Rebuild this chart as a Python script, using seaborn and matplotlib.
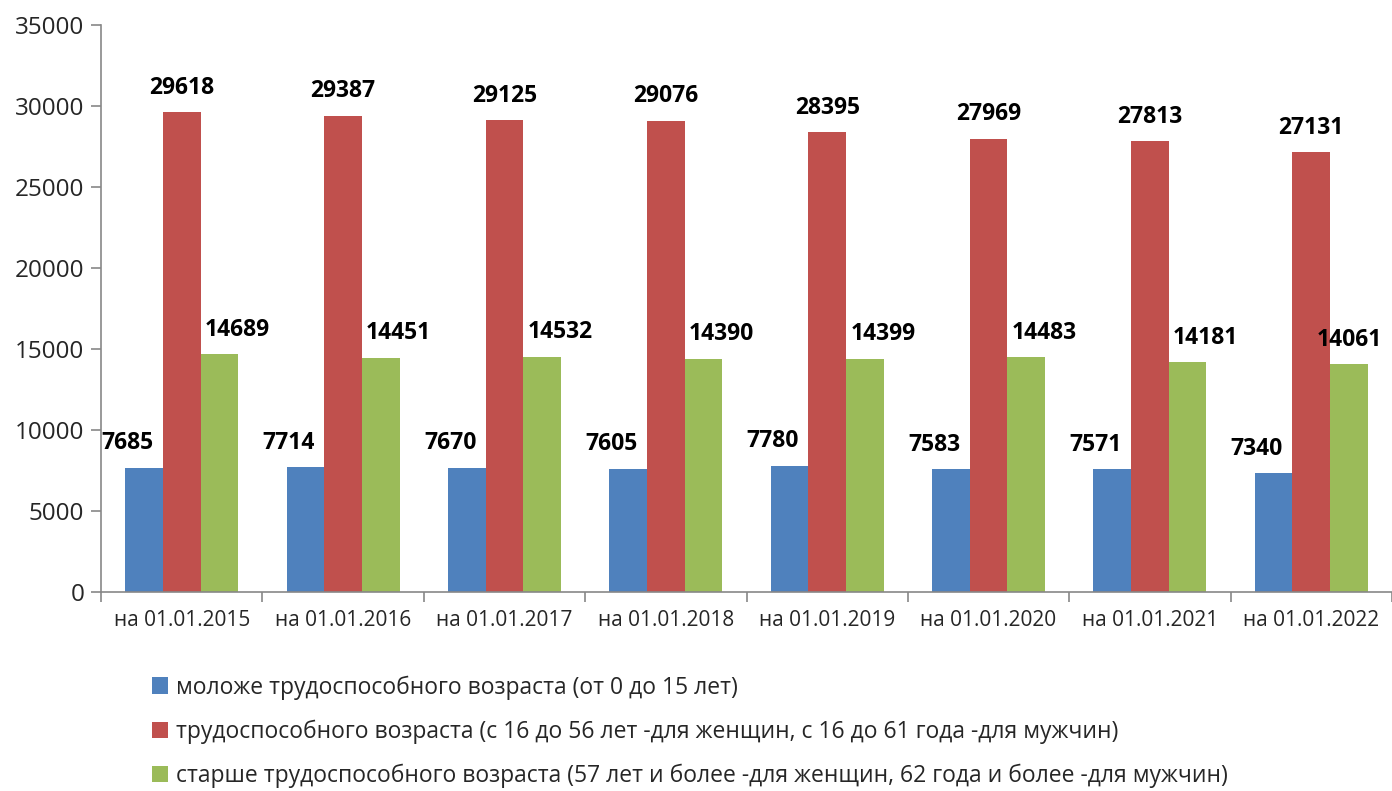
import matplotlib
matplotlib.use("Agg")
import matplotlib.pyplot as plt
import seaborn as sns
import pandas as pd
from matplotlib.patches import Patch

categories = ["на 01.01.2015", "на 01.01.2016", "на 01.01.2017", "на 01.01.2018",
              "на 01.01.2019", "на 01.01.2020", "на 01.01.2021", "на 01.01.2022"]
series_names = [
    "моложе трудоспособного возраста (от 0 до 15 лет)",
    "трудоспособного возраста (с 16 до 56 лет -для женщин, с 16 до 61 года -для мужчин)",
    "старше трудоспособного возраста (57 лет и более -для женщин, 62 года и более -для мужчин)",
]
young = [7685, 7714, 7670, 7605, 7780, 7583, 7571, 7340]
working = [29618, 29387, 29125, 29076, 28395, 27969, 27813, 27131]
old = [14689, 14451, 14532, 14390, 14399, 14483, 14181, 14061]
colors = ["#4F81BD", "#C0504D", "#9BBB59"]

sns.set_style("white")
plt.rcParams['font.family'] = ['Open Sans', 'DejaVu Sans']

rows = []
for name, vals in zip(series_names, [young, working, old]):
    for c, v in zip(categories, vals):
        rows.append({"cat": c, "series": name, "value": v})
df = pd.DataFrame(rows)

fig = plt.figure(figsize=(13.92, 7.91), dpi=100)
ax = fig.add_axes([101/1392, 1-592/791, 1-101/1392, (592-25)/791])

sns.barplot(data=df, x="cat", y="value", hue="series", order=categories,
            hue_order=series_names, palette=colors, width=0.7, gap=0,
            saturation=1, edgecolor="none", linewidth=0, legend=False, ax=ax)

ax.set_ylim(0, 35000)
ax.set_xlim(-0.5, len(categories) - 0.5)
ax.set_yticks(range(0, 35001, 5000))
ax.set_xlabel("")
ax.set_ylabel("")
ax.tick_params(axis="y", labelsize=17.5, length=7, width=1.2, color="#878787",
               direction="out", pad=5, left=True)
ax.tick_params(axis="x", which="major", labelsize=15, length=0, pad=13)
ax.set_xticks([i - 0.5 for i in range(len(categories) + 1)], minor=True)
ax.tick_params(axis="x", which="minor", length=7, width=1.2, color="#878787",
               direction="out", bottom=True)
for s in ["top", "right"]:
    ax.spines[s].set_visible(False)
for s in ["left", "bottom"]:
    ax.spines[s].set_color("#878787")
    ax.spines[s].set_linewidth(1.2)

x_off = [-12, 0, 13]
for si, cont in enumerate(ax.containers):
    for i, bar in enumerate(cont):
        h = bar.get_height()
        dx = x_off[si]
        if si == 2 and i == len(categories) - 1:
            dx = 0
        ax.annotate(f"{int(h)}", (bar.get_x() + bar.get_width() / 2, h),
                    xytext=(dx, 9), textcoords="offset points",
                    ha="center", va="bottom", fontsize=16.5, fontweight="bold",
                    color="black", annotation_clip=False)

handles = [Patch(facecolor=c, edgecolor="none") for c in colors]
fig.legend(handles, series_names, loc="upper left",
           bbox_to_anchor=(143/1392, 1-666/791), frameon=False,
           fontsize=16.5, handlelength=0.7, handleheight=0.7,
           handletextpad=0.35, labelspacing=0.86, borderaxespad=0)

fig.savefig("out.png", dpi=100)
